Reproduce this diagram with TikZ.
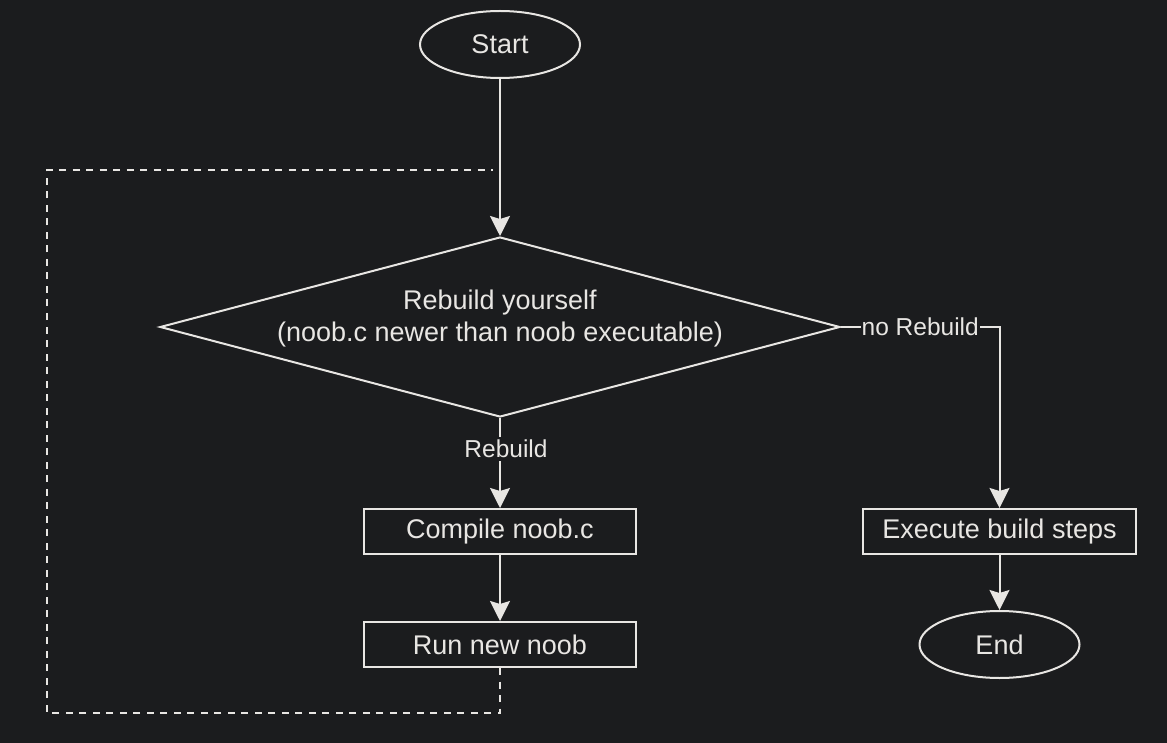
\documentclass[tikz,border=0pt]{standalone}
\usepackage{fontspec}
\setmainfont{Liberation Sans}
\usetikzlibrary{shapes.geometric,arrows.meta}
\definecolor{bg}{HTML}{1B1C1E}
\definecolor{fg}{HTML}{E8E6E3}
\begin{document}
\begin{tikzpicture}[x=1pt,y=-1pt,
  base/.style={draw=fg, line width=2pt, text=fg, font=\fontsize{27}{32}\selectfont, inner sep=0pt},
  terminal/.style={base, ellipse, minimum width=160pt, minimum height=67pt},
  process/.style={base, rectangle, minimum width=272pt, minimum height=45pt},
  decision/.style={base, diamond, minimum width=680pt, minimum height=180pt, aspect=3.78},
  dtext/.style={text=fg, font=\fontsize{27}{32}\selectfont, align=center, inner sep=0pt},
  flow/.style={draw=fg, line width=2pt, -{Stealth[length=20pt,width=20pt,inset=3pt]}},
  loopline/.style={draw=fg, line width=2pt, dash pattern=on 7pt off 6.5pt},
  edgelabel/.style={fill=bg, text=fg, font=\fontsize{24.5}{28}\selectfont, inner xsep=1pt, inner ysep=3pt}
]
\useasboundingbox (0,0) rectangle (1167,743);
\fill[bg] (0,0) rectangle (1167,743);

\node[terminal] (start) at (500,44.5) {Start};
\node[decision] (dec) at (500,327) {};
\node[dtext] (dectext) at (500,319) {Rebuild yourself\\(noob.c newer than noob executable)};
\node[process] (compile) at (500,531.5) {Compile noob.c};
\node[process] (run) at (500,644.5) {Run new noob};
\node[process, minimum width=273pt] (exec) at (999.5,531.5) {Execute build steps};
\node[terminal] (end) at (999.5,644.5) {End};

\coordinate (loopcorner) at (47,713);
\coordinate (loopend) at (493,170);

\draw[flow] (start.south) -- (dec.north);
\draw[flow] (dec.south) -- node[edgelabel, pos=0.34, xshift=6pt] {Rebuild} (compile.north);
\draw[flow] (compile.south) -- (run.north);
\draw[flow] (dec.east) -| node[edgelabel, pos=0.25] {no Rebuild} (exec.north);
\draw[flow] (exec.south) -- (end.north);
\draw[loopline] (run.south) |- (loopcorner) |- (loopend);
\end{tikzpicture}
\end{document}
